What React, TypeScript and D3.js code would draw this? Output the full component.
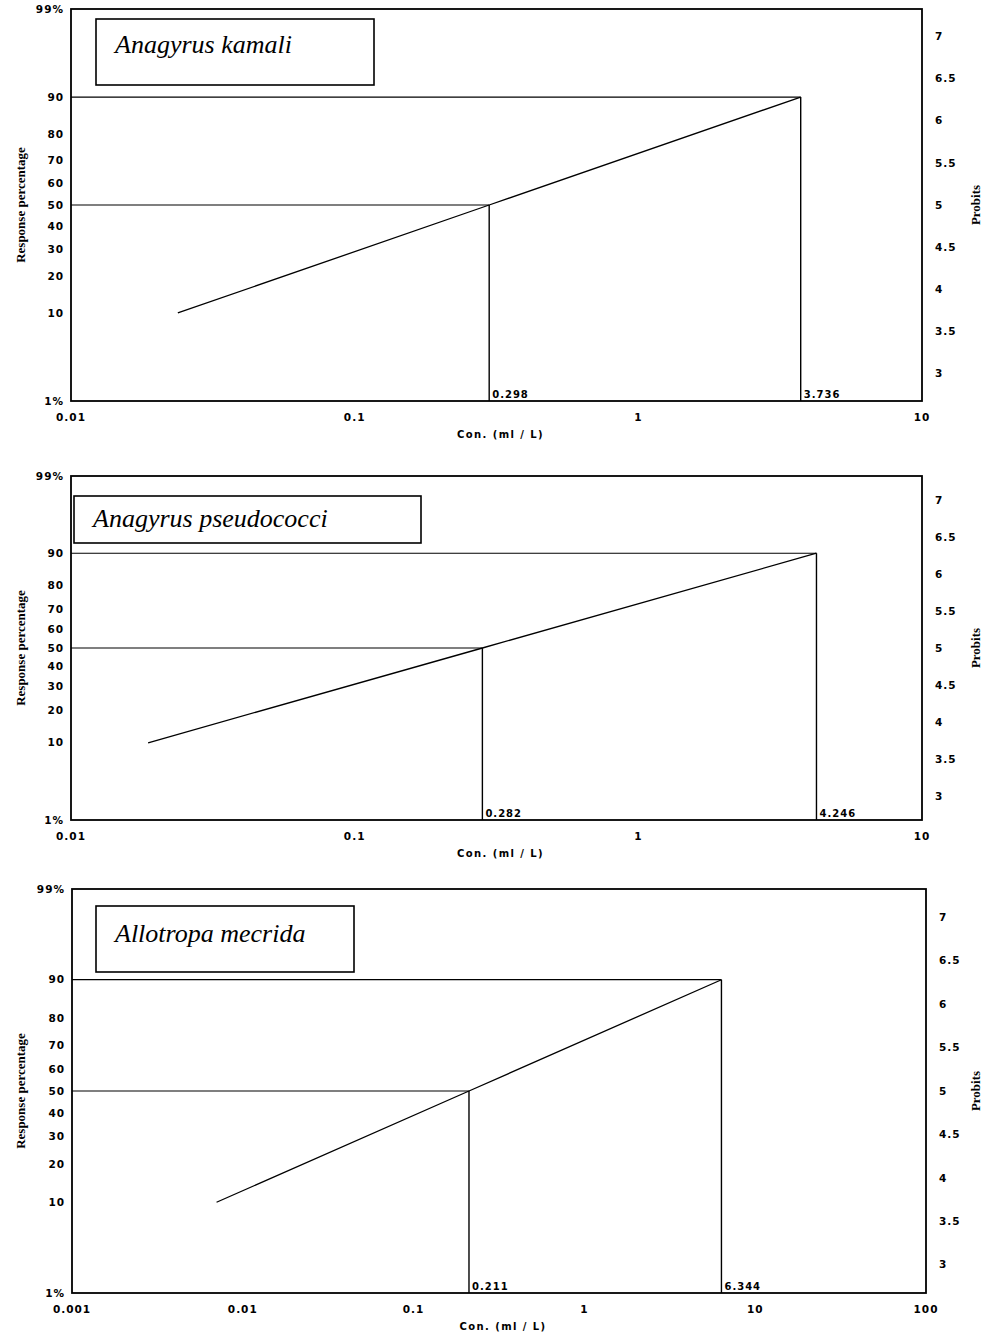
import React, { useEffect, useRef } from 'react';
import * as d3 from 'd3';

// species and their probit regression points (ml / L)
const species = ["Anagyrus kamali", "Anagyrus pseudococci", "Allotropa mecrida"];
const lc10 = [0.0238, 0.0187, 0.00702];
const lc50 = [0.298, 0.282, 0.211];
const lc90 = [3.736, 4.246, 6.344];

// axes
const xMin = [0.01, 0.01, 0.001];
const xMax = [10, 10, 100];
const xTickValues = [
    [0.01, 0.1, 1, 10],
    [0.01, 0.1, 1, 10],
    [0.001, 0.01, 0.1, 1, 10, 100],
];
const xTickLabels = [
    ["0.01", "0.1", "1", "10"],
    ["0.01", "0.1", "1", "10"],
    ["0.001", "0.01", "0.1", "1", "10", "100"],
];
const pctTicks = [1, 10, 20, 30, 40, 50, 60, 70, 80, 90, 99];
const pctLabels = ["1%", "10", "20", "30", "40", "50", "60", "70", "80", "90", "99%"];
const probitTicks = [3, 3.5, 4, 4.5, 5, 5.5, 6, 6.5, 7];
const probitLabels = ["3", "3.5", "4", "4.5", "5", "5.5", "6", "6.5", "7"];

// layout of the three panels
const frames = [
    { left: 71, right: 922, top: 9, bottom: 401 },
    { left: 71, right: 922, top: 476, bottom: 820 },
    { left: 72, right: 926, top: 889, bottom: 1293 },
];
const boxes = [
    { x: 96, y: 19, w: 278, h: 66, base: 53 },
    { x: 74, y: 496, w: 347, h: 47, base: 527 },
    { x: 96, y: 906, w: 258, h: 66, base: 942 },
];

// inverse normal CDF (Acklam)
function normInv(p: number): number {
    const a = [-3.969683028665376e+01, 2.209460984245205e+02, -2.759285104469687e+02, 1.383577518672690e+02, -3.066479806614716e+01, 2.506628277459239e+00];
    const b = [-5.447609879822406e+01, 1.615858368580409e+02, -1.556989798598866e+02, 6.680131188771972e+01, -1.328068155288572e+01];
    const c = [-7.784894002430293e-03, -3.223964580411365e-01, -2.400758277161838e+00, -2.549732539343734e+00, 4.374664141464968e+00, 2.938163982698783e+00];
    const d = [7.784695709041462e-03, 3.224671290700398e-01, 2.445134137142996e+00, 3.754408661907416e+00];
    const pl = 0.02425;
    let q, r;
    if (p < pl) {
        q = Math.sqrt(-2 * Math.log(p));
        return (((((c[0] * q + c[1]) * q + c[2]) * q + c[3]) * q + c[4]) * q + c[5]) /
            ((((d[0] * q + d[1]) * q + d[2]) * q + d[3]) * q + 1);
    }
    if (p <= 1 - pl) {
        q = p - 0.5;
        r = q * q;
        return (((((a[0] * r + a[1]) * r + a[2]) * r + a[3]) * r + a[4]) * r + a[5]) * q /
            (((((b[0] * r + b[1]) * r + b[2]) * r + b[3]) * r + b[4]) * r + 1);
    }
    q = Math.sqrt(-2 * Math.log(1 - p));
    return -(((((c[0] * q + c[1]) * q + c[2]) * q + c[3]) * q + c[4]) * q + c[5]) /
        ((((d[0] * q + d[1]) * q + d[2]) * q + d[3]) * q + 1);
}

const tickFont = "'DejaVu Sans', sans-serif";
const serif = "'Liberation Serif', 'Times New Roman', serif";

function App() {
    const ref = useRef<SVGSVGElement | null>(null);

    useEffect(() => {
        if (!ref.current) return;
        const svg = d3.select(ref.current);
        svg.selectAll("*").remove();

        species.forEach((name, i) => {
            const f = frames[i];
            const g = svg.append("g");

            const x = d3.scaleLog().domain([xMin[i], xMax[i]]).range([f.left, f.right]);
            const z = d3.scaleLinear().domain([normInv(0.01), normInv(0.99)]).range([f.bottom, f.top]);
            const y = (pct: number) => z(normInv(pct / 100));
            // right probit axis: probit = z + 5
            const yProbit = (p: number) => z(p - 5);

            // frame
            g.append("rect")
                .attr("x", f.left).attr("y", f.top)
                .attr("width", f.right - f.left).attr("height", f.bottom - f.top)
                .attr("fill", "none").attr("stroke", "#000").attr("stroke-width", 1.8);

            // title box
            const bx = boxes[i];
            g.append("rect")
                .attr("x", bx.x).attr("y", bx.y).attr("width", bx.w).attr("height", bx.h)
                .attr("fill", "#fff").attr("stroke", "#000").attr("stroke-width", 1.6);
            g.append("text")
                .attr("x", bx.x + 19).attr("y", bx.base)
                .attr("font-family", serif).attr("font-style", "italic")
                .attr("font-size", 26).text(name);

            // reference lines at 50% and 90%
            const refs = [{ c: lc50[i], p: 50 }, { c: lc90[i], p: 90 }];
            refs.forEach(r => {
                g.append("line")
                    .attr("x1", f.left).attr("x2", x(r.c))
                    .attr("y1", y(r.p)).attr("y2", y(r.p))
                    .attr("stroke", "#000").attr("stroke-width", 1.2);
                g.append("line")
                    .attr("x1", x(r.c)).attr("x2", x(r.c))
                    .attr("y1", y(r.p)).attr("y2", f.bottom)
                    .attr("stroke", "#000").attr("stroke-width", 1.4);
                g.append("text")
                    .attr("x", x(r.c) + 3).attr("y", f.bottom - 3)
                    .attr("font-family", tickFont).attr("font-weight", "bold")
                    .attr("font-size", 10).attr("letter-spacing", 1)
                    .text(String(r.c));
            });

            // regression line
            const pts = [{ c: lc10[i], p: 10 }, { c: lc50[i], p: 50 }, { c: lc90[i], p: 90 }];
            const line = d3.line<{ c: number, p: number }>().x(d => x(d.c)).y(d => y(d.p));
            g.append("path").datum(pts).attr("d", line)
                .attr("fill", "none").attr("stroke", "#000").attr("stroke-width", 1.3);

            // left percentage ticks
            g.selectAll(".pl").data(pctTicks).enter().append("text")
                .attr("x", f.left - 7).attr("y", d => y(d))
                .attr("dy", "0.35em").attr("text-anchor", "end")
                .attr("font-family", tickFont).attr("font-weight", "bold")
                .attr("font-size", 10.5).attr("letter-spacing", 1)
                .text((d, k) => pctLabels[k]);

            // right probit ticks
            g.selectAll(".pr").data(probitTicks).enter().append("text")
                .attr("x", f.right + 13).attr("y", d => yProbit(d))
                .attr("dy", "0.35em")
                .attr("font-family", tickFont).attr("font-weight", "bold")
                .attr("font-size", 10.5).attr("letter-spacing", 1)
                .text((d, k) => probitLabels[k]);

            // x ticks
            g.selectAll(".xt").data(xTickValues[i]).enter().append("text")
                .attr("x", d => x(d)).attr("y", f.bottom + 16)
                .attr("dy", "0.35em").attr("text-anchor", "middle")
                .attr("font-family", tickFont).attr("font-weight", "bold")
                .attr("font-size", 10.5).attr("letter-spacing", 1)
                .text((d, k) => xTickLabels[i][k]);

            // axis titles
            g.append("text")
                .attr("x", (f.left + f.right) / 2 + 4).attr("y", f.bottom + 33)
                .attr("dy", "0.35em").attr("text-anchor", "middle")
                .attr("font-family", tickFont).attr("font-weight", "bold")
                .attr("font-size", 10).attr("letter-spacing", 1.4)
                .text("Con. (ml / L)");

            const mid = y(50);
            g.append("text")
                .attr("transform", `translate(25,${mid}) rotate(-90)`)
                .attr("text-anchor", "middle")
                .attr("font-family", serif).attr("font-weight", "bold")
                .attr("font-size", 13)
                .text("Response percentage");

            g.append("text")
                .attr("transform", `translate(980,${mid}) rotate(-90)`)
                .attr("text-anchor", "middle")
                .attr("font-family", serif).attr("font-weight", "bold")
                .attr("font-size", 13)
                .text("Probits");
        });
    }, []);

    return (
        <svg ref={ref} width={987} height={1335}
            style={{ position: "absolute", left: 0, top: 0, background: "#fff" }} />
    );
}

export default App;
